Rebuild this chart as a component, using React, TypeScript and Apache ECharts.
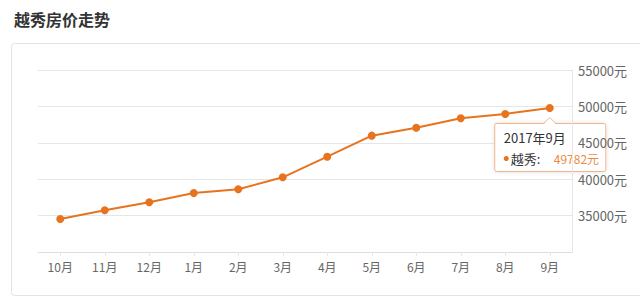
import React, { useEffect, useRef } from "react";
import * as echarts from "echarts";

const months = ["10月", "11月", "12月", "1月", "2月", "3月", "4月", "5月", "6月", "7月", "8月", "9月"];
const prices = [34530, 35730, 36830, 38100, 38610, 40260, 43090, 45980, 47070, 48370, 48960, 49782];
const seriesName = "越秀";
const tooltipTitle = "2017年9月";
const titleText = "越秀房价走势";

const FONT = "'Noto Sans CJK SC', 'Noto Sans', sans-serif";
const ORANGE = "#e8731f";

export default function App() {
  const ref = useRef<HTMLDivElement>(null);

  useEffect(() => {
    if (!ref.current) return;
    const chart = echarts.init(ref.current, null, { renderer: "svg" });
    chart.setOption({
      animation: false,
      backgroundColor: "#ffffff",
      textStyle: { fontFamily: FONT },
      title: {
        text: titleText,
        left: 9,
        top: 6,
        textStyle: { fontSize: 16, fontWeight: "bold", color: "#333333", fontFamily: FONT },
      },
      grid: { left: 38, right: 68, top: 70, bottom: 48 },
      xAxis: {
        type: "category",
        data: months,
        boundaryGap: true,
        axisLine: { show: true, lineStyle: { color: "#dddddd", width: 1 } },
        axisTick: { show: true, alignWithLabel: true, length: 4, lineStyle: { color: "#e6e6e6" } },
        axisLabel: { color: "#666666", fontSize: 12, margin: 8, fontFamily: FONT },
        splitLine: { show: false },
      },
      yAxis: {
        type: "value",
        position: "right",
        min: 30000,
        max: 55000,
        interval: 5000,
        axisLine: { show: true, lineStyle: { color: "#e6e6e6", width: 1 } },
        axisTick: { show: false },
        axisLabel: {
          color: "#666666",
          fontSize: 13,
          margin: 6,
          showMinLabel: false,
          formatter: (v: number) => String(v) + "元",
          fontFamily: FONT,
        },
        splitLine: { show: true, lineStyle: { color: "#e6e6e6", width: 1 } },
      },
      series: [
        {
          name: seriesName,
          type: "line",
          data: prices,
          symbol: "circle",
          symbolSize: 8,
          itemStyle: { color: ORANGE },
          lineStyle: { color: ORANGE, width: 2 },
        },
      ],
    });

    const last = prices.length - 1;
    const pt = chart.convertToPixel({ xAxisIndex: 0, yAxisIndex: 0 }, [last, prices[last]]) as number[];
    const px = pt[0];
    const py = pt[1];
    const bx = px - 55;
    const by = py + 15.5;
    const bw = 111;
    const bh = 48;

    chart.setOption({
      graphic: [
        {
          type: "rect",
          id: "card",
          z: -10,
          silent: true,
          shape: { x: 11.5, y: 43.5, width: 660, height: 252, r: 3 },
          style: { fill: "none", stroke: "#e3e3e3", lineWidth: 1 },
        },
        {
          type: "group",
          id: "tip",
          z: 100,
          children: [
            {
              type: "rect",
              shape: { x: bx, y: by, width: bw, height: bh, r: 2 },
              style: {
                fill: "#ffffff",
                stroke: "#f2b58a",
                lineWidth: 1,
                shadowBlur: 4,
                shadowColor: "rgba(0,0,0,0.12)",
              },
            },
            {
              type: "polygon",
              shape: { points: [[px - 6, by + 0.8], [px, by - 6], [px + 6, by + 0.8]] },
              style: { fill: "#ffffff" },
            },
            {
              type: "polyline",
              shape: { points: [[px - 6, by], [px, by - 6], [px + 6, by]] },
              style: { stroke: "#f2b58a", lineWidth: 1, fill: "none" },
            },
            {
              type: "text",
              style: {
                text: tooltipTitle,
                x: px - 46,
                y: py + 29.5,
                verticalAlign: "middle",
                fill: "#333333",
                fontSize: 13,
                fontFamily: FONT,
              },
            },
            {
              type: "circle",
              shape: { cx: px - 43.5, cy: py + 50.5, r: 2.5 },
              style: { fill: ORANGE },
            },
            {
              type: "text",
              style: {
                text: seriesName + ":",
                x: px - 39,
                y: py + 50.5,
                verticalAlign: "middle",
                fill: "#333333",
                fontSize: 13,
                fontFamily: FONT,
              },
            },
            {
              type: "text",
              style: {
                text: prices[last] + "元",
                x: px + 4,
                y: py + 50.5,
                verticalAlign: "middle",
                fill: "#ee8a3f",
                fontSize: 12,
                fontFamily: FONT,
              },
            },
          ],
        },
      ],
    });

    return () => chart.dispose();
  }, []);

  return (
    <div
      ref={ref}
      style={{ position: "fixed", left: 0, top: 0, width: 640, height: 300 }}
    />
  );
}
